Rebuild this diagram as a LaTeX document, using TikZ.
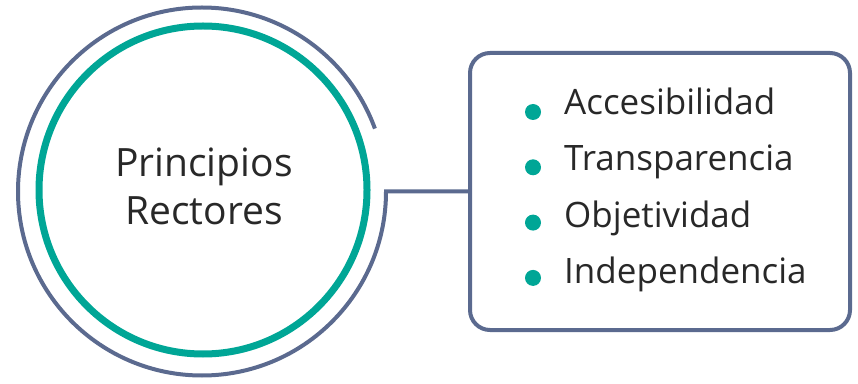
\documentclass[tikz,border=0pt]{standalone}
\usepackage{fontspec}
\setmainfont{Open Sans}
\usetikzlibrary{positioning}
\definecolor{mint}{RGB}{0,166,150}
\definecolor{slate}{RGB}{91,106,143}
\definecolor{ink}{RGB}{40,40,40}

\begin{document}
\begin{tikzpicture}
        [x=1pt, y=1pt,
         ring/.style={circle, draw=mint, line width=7pt, minimum size=328pt, inner sep=0pt},
         title/.style={anchor=base, align=center, text=ink, inner sep=0pt, font=\fontsize{39}{48}\selectfont},
         frame/.style={draw=slate, line width=4pt, rounded corners=20pt, minimum width=380pt, minimum height=277pt},
         link/.style={draw=slate, line width=4pt},
         dot/.style={circle, fill=mint, inner sep=0pt, minimum size=16pt},
         item/.style={anchor=base west, text=ink, inner sep=0pt, font=\fontsize{35}{48}\selectfont}]
        \useasboundingbox (0,0) rectangle (858,383);
        % centre circle and list box
        \node[ring] (core) at (203,193) {};
        \node[title] (name) at (204,158) {Principios\\Rectores};
        \node[frame] (box) at (660,191.5) {};
        % outer ring, open at the top right
        \coordinate (join) at (386,191.5);
        \draw[link] (box.west) -- (join) arc[start angle=0, end angle=-340, radius=184pt];
        % list items
        \foreach \t [count=\i] in {Accesibilidad, Transparencia, Objetividad, Independencia}
          \path node[dot] (dot\i) at (533, {271-(\i-1)*55.3}) {}
                node[item] (item\i) at (564, {268-(\i-1)*56}) {\t};
\end{tikzpicture}
\end{document}
